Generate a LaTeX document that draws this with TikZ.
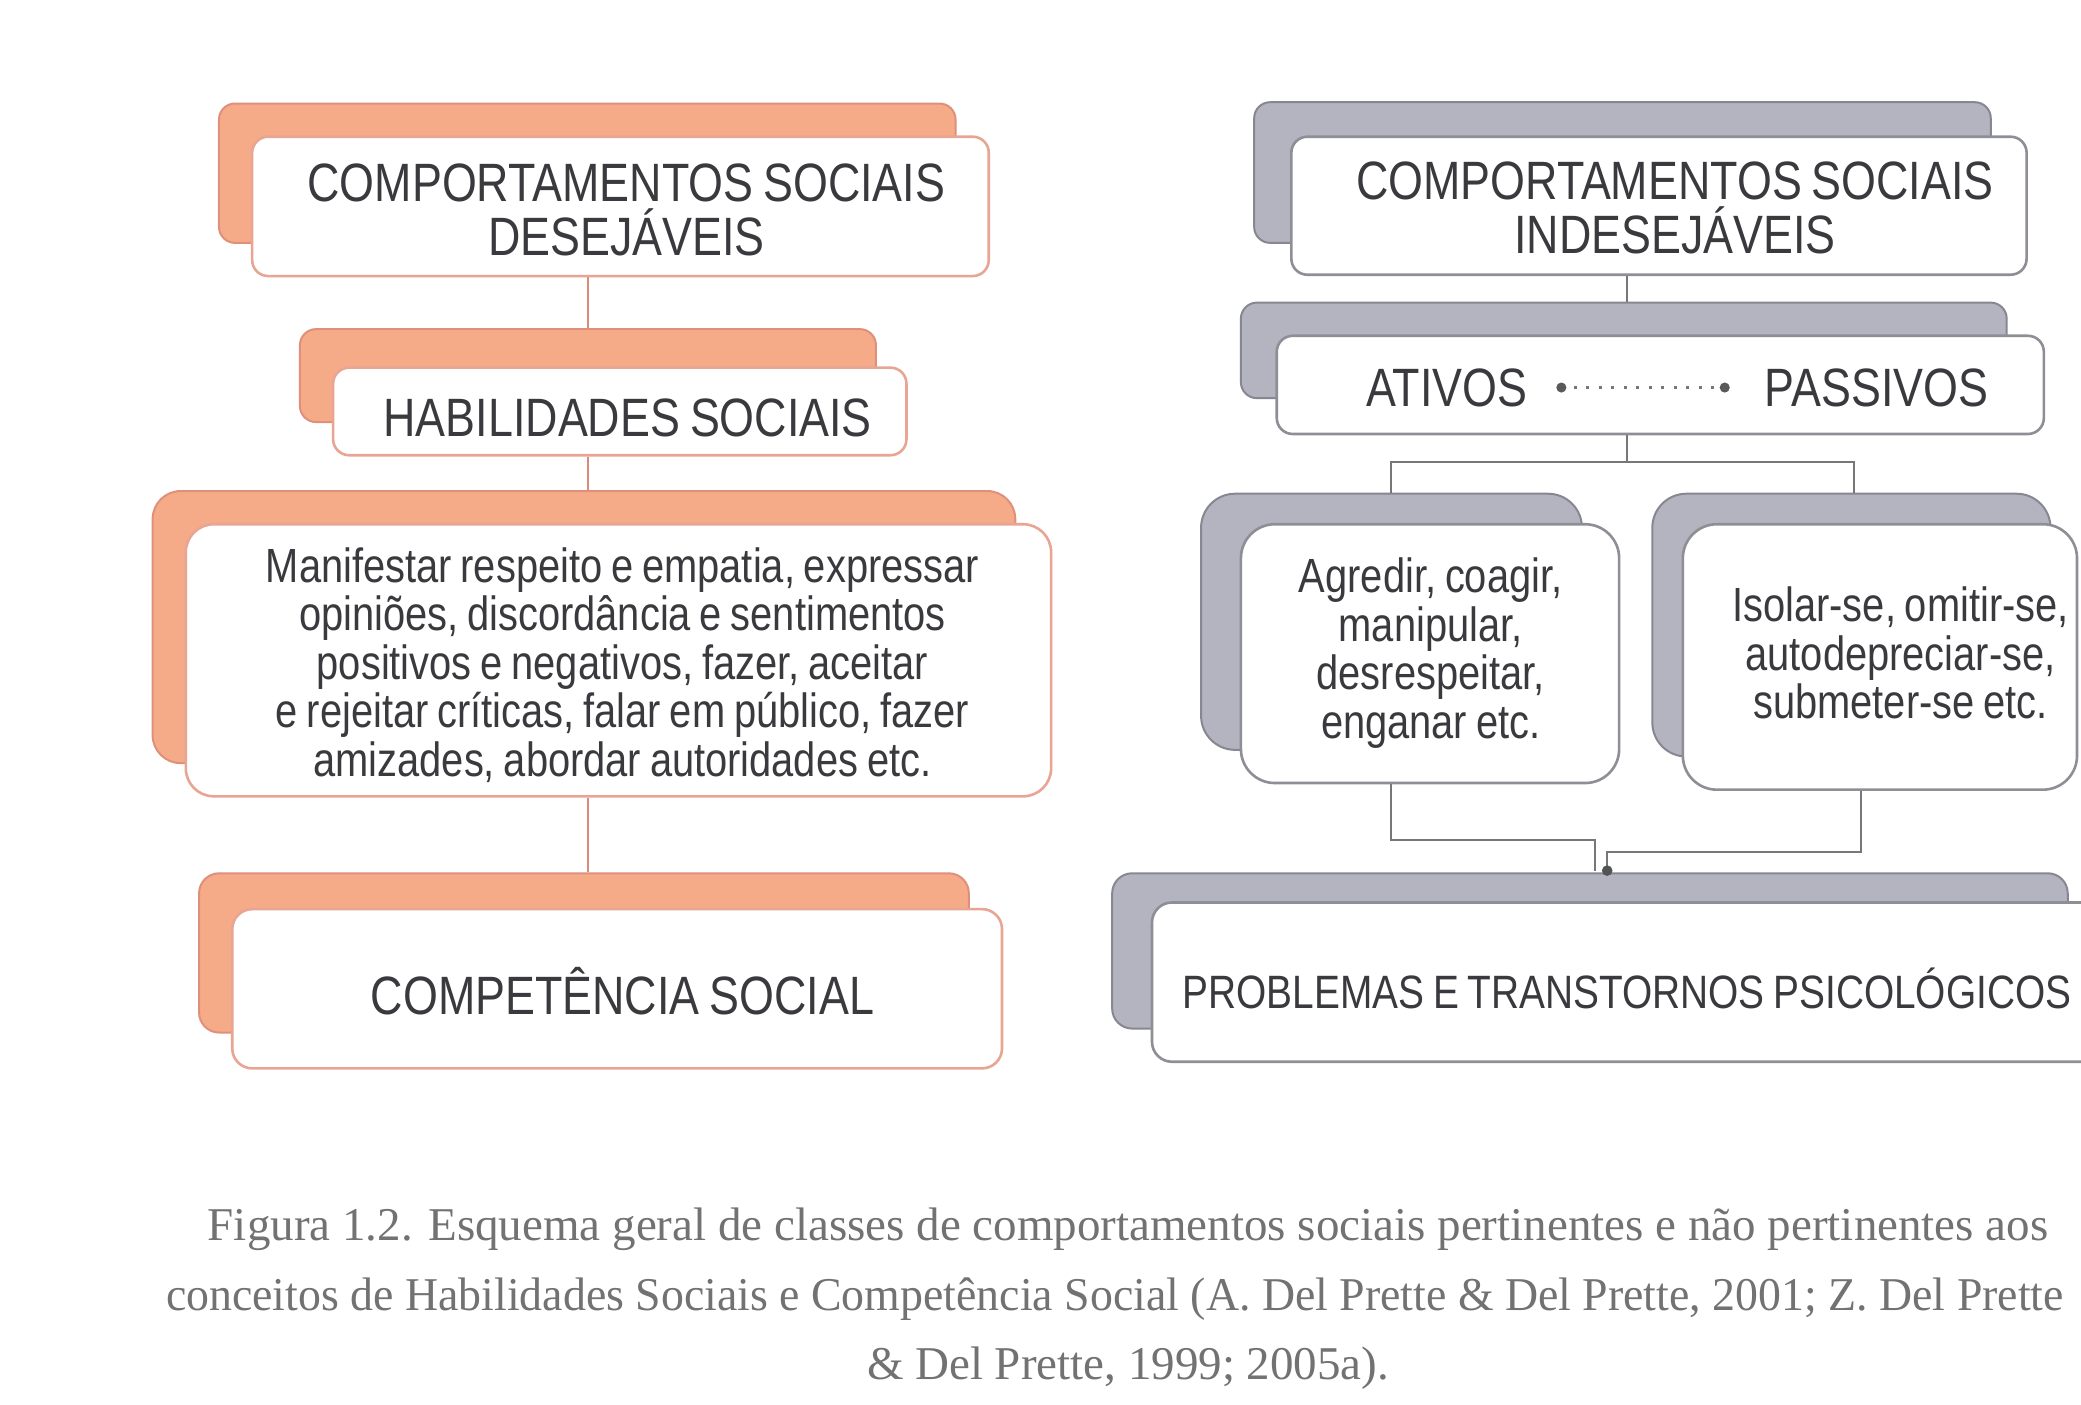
\documentclass[tikz,border=0pt]{standalone}
\usepackage{fontspec}
\setmainfont{Liberation Serif}
\newfontfamily\narrowfont[FakeStretch=0.83,WordSpace=0.8]{Liberation Sans}
\newfontfamily\capnarrow[FakeStretch=0.975]{Liberation Serif}
\usetikzlibrary{fit}

\definecolor{warmfill}{HTML}{F5AB88}
\definecolor{warmedge}{HTML}{E0907A}
\definecolor{warmframe}{HTML}{E9A593}
\definecolor{warmline}{HTML}{D98B79}
\definecolor{coolfill}{HTML}{B4B4C0}
\definecolor{cooledge}{HTML}{878791}
\definecolor{coolframe}{HTML}{8E8E96}
\definecolor{coolline}{HTML}{777777}
\definecolor{ink}{HTML}{3A3A3E}
\definecolor{capink}{HTML}{727272}

\tikzset{
  warmback/.style={fill=warmfill, draw=warmedge, line width=2pt, rounded corners=#1, inner sep=0pt},
  warmback/.default=16pt,
  warmfront/.style={fill=white, draw=warmframe, line width=2.6pt, rounded corners=#1, inner sep=0pt},
  warmfront/.default=16pt,
  coolback/.style={fill=coolfill, draw=cooledge, line width=2pt, rounded corners=#1, inner sep=0pt},
  coolback/.default=16pt,
  coolfront/.style={fill=white, draw=coolframe, line width=2.6pt, rounded corners=#1, inner sep=0pt},
  coolfront/.default=16pt,
  headtxt/.style={font=\narrowfont\fontsize{54}{54}\selectfont, text=ink, align=center, inner sep=0pt},
  bodytxt/.style={font=\narrowfont\fontsize{48}{48.5}\selectfont, text=ink, align=center, inner sep=0pt},
  captxt/.style={font=\fontsize{47}{70}\selectfont, text=capink, inner sep=0pt},
  warmconn/.style={draw=warmline, line width=2.6pt},
  coolconn/.style={draw=coolline, line width=2.4pt},
}

\begin{document}
\begin{tikzpicture}[x=1.327pt,y=-1.327pt]
  \useasboundingbox[fill=white] (0,0) rectangle (1568,1058);

  % ---- desirable behaviours (left column) ----
  \node[warmback, fit={(165,78)(720,183)}] (aback) {};
  \node[warmfront, fit={(190,103)(745,208)}] (a) {};
  \node[headtxt] (atext) at (472,158) {COMPORTAMENTOS SOCIAIS\\DESEJÁVEIS};

  \node[warmback, fit={(226,248)(660,318)}] (bback) {};
  \node[warmfront, fit={(251,277)(683,343)}] (b) {};
  \node[headtxt] (btext) at (473,315) {HABILIDADES SOCIAIS};

  \node[warmback=28pt, fit={(115,370)(765,575)}] (cback) {};
  \node[warmfront=28pt, fit={(140,395)(792,600)}] (c) {};
  \node[bodytxt] (ctext) at (469,501) {Manifestar respeito e empatia, expressar\\opiniões, discordância e sentimentos\\positivos e negativos, fazer, aceitar\\e rejeitar críticas, falar em público, fazer\\amizades, abordar autoridades etc.};

  \node[warmback=20pt, fit={(150,658)(730,778)}] (dback) {};
  \node[warmfront=20pt, fit={(175,685)(755,805)}] (d) {};
  \node[headtxt] (dtext) at (469,747) {COMPETÊNCIA SOCIAL};

  \coordinate (lx) at (443,0);
  \draw[warmconn] (a.south -| lx) -- (bback.north -| lx);
  \draw[warmconn] (b.south -| lx) -- (cback.north -| lx);
  \draw[warmconn] (c.south -| lx) -- (dback.north -| lx);

  % ---- undesirable behaviours (right column) ----
  \node[coolback, fit={(945,77)(1500,183)}] (eback) {};
  \node[coolfront, fit={(973,103)(1527,207)}] (e) {};
  \node[headtxt] (etext) at (1262,157) {COMPORTAMENTOS SOCIAIS\\INDESEJÁVEIS};

  \node[coolback, fit={(935,228)(1512,300)}] (fback) {};
  \node[coolfront, fit={(962,253)(1540,327)}] (f) {};
  \node[headtxt] (ativos) at (1090,292) {ATIVOS};
  \node[headtxt] (passivos) at (1414,292) {PASSIVOS};
  \coordinate (dotl) at ([xshift=34pt]ativos.east);
  \coordinate (dotr) at ([xshift=-40pt]passivos.west);
  \draw[coolline, line width=3pt, dash pattern=on 3pt off 9.5pt] (dotl) -- (dotr);
  \fill[coolline!75!black] (dotl) circle (3.8);
  \fill[coolline!75!black] (dotr) circle (3.8);

  \node[coolback=34pt, fit={(905,372)(1192,565)}] (gback) {};
  \node[coolfront=34pt, fit={(935,395)(1220,590)}] (g) {};
  \node[bodytxt] (gtext) at (1078,492) {Agredir, coagir,\\manipular,\\desrespeitar,\\enganar etc.};

  \node[coolback=34pt, fit={(1245,372)(1545,570)}] (hback) {};
  \node[coolfront=34pt, fit={(1268,395)(1565,595)}] (h) {};
  \node[bodytxt] (htext) at (1432,492) {Isolar-se, omitir-se,\\autodepreciar-se,\\submeter-se etc.};

  \node[coolback=20pt, fit={(838,658)(1558,775)}] (pback) {};
  \node[coolfront=20pt, fit={(868,680)(1600,800)}] (p) {};
  \node[headtxt, font=\narrowfont\fontsize{46.8}{48}\selectfont, anchor=west] (ptext) at (891,745) {PROBLEMAS E TRANSTORNOS PSICOLÓGICOS};

  \coordinate (rx) at (1226,0);
  \coordinate (split) at (1226,348);
  \coordinate (gx) at (1048,0);
  \coordinate (hx) at (1397,0);
  \draw[coolconn] (e.south -| rx) -- (fback.north -| rx);
  \draw[coolconn] (f.south -| rx) -- (split);
  \draw[coolconn] (gback.north -| gx) |- (split) -| (hback.north -| hx);

  \coordinate (gbend) at (1048,633);
  \coordinate (hbend) at (1402,642);
  \coordinate (pinl) at (1202,656);
  \coordinate (pinr) at (1211,656);
  \draw[coolconn] (g.south -| gbend) -- (gbend) -| (pinl);
  \draw[coolconn] (h.south -| hbend) -- (hbend) -| (pinr);
  \fill[coolline!70!black] (pinr) circle (4);

  % ---- caption ----
  \node[captxt] (cap1) at (850,926) {Figura 1.2. Esquema geral de classes de comportamentos sociais pertinentes e não pertinentes aos};
  \node[captxt, font=\capnarrow\fontsize{47}{70}\selectfont, anchor=west] (cap2) at (125,979) {conceitos de Habilidades Sociais e Competência Social (A. Del Prette \& Del Prette, 2001; Z. Del Prette};
  \node[captxt] (cap3) at (850,1031) {\& Del Prette, 1999; 2005a).};
\end{tikzpicture}
\end{document}
